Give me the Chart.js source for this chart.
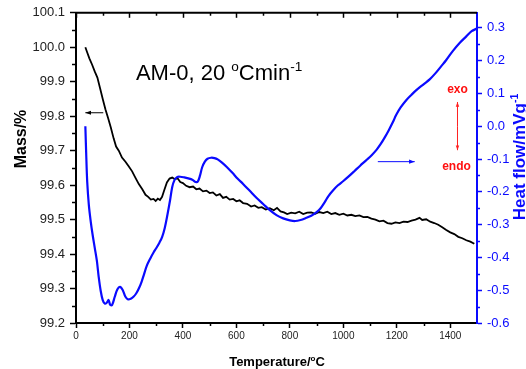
<!DOCTYPE html>
<html>
<head>
<meta charset="utf-8">
<script src="https://cdn.jsdelivr.net/npm/chart.js@4/dist/chart.umd.min.js"></script>
<style>
	body { margin: 0; background: #fff; }
</style>
</head>
<body>
<canvas id="myChart" width="526" height="369"></canvas>
<script>
	//Mass (TG) curve - black
	var massTemp = [35, 42, 50, 60, 70, 80, 91, 100, 110, 120, 130, 141, 150, 160, 172, 185, 197, 210, 222, 235,
		248, 260, 270, 280, 290, 298, 306, 314, 322, 330, 340, 350, 360, 370, 380, 390, 400, 412, 425, 438,
		450, 462, 475, 488, 500, 512, 525, 538, 550, 562, 575, 588, 600, 612, 625, 640, 655, 668, 682, 695,
		710, 725, 740, 752, 765, 778, 790, 805, 820, 835, 850, 865, 880, 895, 910, 925, 940, 955, 970, 985,
		1000, 1015, 1030, 1045, 1060, 1075, 1090, 1105, 1120, 1135, 1150, 1165, 1180, 1195, 1210, 1225, 1240, 1255, 1270, 1285,
		1295, 1310, 1325, 1340, 1355, 1370, 1385, 1400, 1415, 1430, 1445, 1460, 1475, 1490];
	var massValues = [100.000, 99.985, 99.968, 99.950, 99.930, 99.912, 99.878, 99.850, 99.820, 99.795, 99.768, 99.735, 99.712, 99.700, 99.680, 99.668, 99.655, 99.640, 99.622, 99.603,
		99.588, 99.572, 99.566, 99.558, 99.560, 99.554, 99.561, 99.557, 99.566, 99.585, 99.608, 99.619, 99.622, 99.617, 99.620, 99.609, 99.606, 99.598, 99.594, 99.596,
		99.588, 99.590, 99.582, 99.584, 99.577, 99.579, 99.570, 99.574, 99.563, 99.566, 99.558, 99.560, 99.553, 99.556, 99.548, 99.546, 99.538, 99.541, 99.534, 99.536,
		99.529, 99.533, 99.527, 99.534, 99.524, 99.521, 99.516, 99.520, 99.518, 99.523, 99.516, 99.520, 99.521, 99.517, 99.522, 99.519, 99.523, 99.516, 99.519, 99.514,
		99.517, 99.512, 99.514, 99.510, 99.512, 99.507, 99.508, 99.503, 99.500, 99.495, 99.497, 99.490, 99.488, 99.492, 99.490, 99.494, 99.493, 99.497, 99.500, 99.505,
		99.499, 99.501, 99.494, 99.490, 99.485, 99.478, 99.470, 99.463, 99.458, 99.450, 99.446, 99.440, 99.436, 99.430];

	//Heat flow (DSC) curve - blue
	var heatTemp = [35, 38, 42, 48, 55, 62, 70, 78, 85, 92, 100, 108, 115, 122, 128, 135, 145, 155, 165, 175,
		185, 195, 205, 215, 225, 235, 245, 255, 265, 278, 290, 300, 312, 322, 332, 342, 352, 360, 368, 378,
		390, 405, 420, 435, 448, 456, 464, 472, 482, 492, 505, 518, 530, 545, 564, 585, 605, 625, 650, 675,
		700, 725, 750, 775, 800, 820, 840, 860, 880, 900, 915, 930, 945, 962, 980, 1000, 1020, 1040, 1062, 1085,
		1105, 1124, 1140, 1155, 1170, 1185, 1198, 1215, 1236, 1255, 1273, 1300, 1323, 1345, 1365, 1385, 1410, 1435, 1460, 1480, 1500];
	var heatValues = [0.00, -0.08, -0.17, -0.24, -0.29, -0.33, -0.37, -0.41, -0.46, -0.50, -0.53, -0.541, -0.538, -0.530, -0.545, -0.545, -0.520, -0.497, -0.490, -0.500,
		-0.520, -0.528, -0.526, -0.520, -0.510, -0.495, -0.475, -0.450, -0.425, -0.403, -0.385, -0.372, -0.355, -0.338, -0.310, -0.270, -0.225, -0.185, -0.165, -0.155,
		-0.154, -0.156, -0.159, -0.163, -0.170, -0.168, -0.150, -0.125, -0.108, -0.099, -0.096, -0.097, -0.101, -0.110, -0.124, -0.142, -0.160, -0.176, -0.197, -0.218,
		-0.237, -0.256, -0.271, -0.281, -0.287, -0.289, -0.286, -0.280, -0.273, -0.262, -0.250, -0.232, -0.212, -0.195, -0.180, -0.167, -0.153, -0.138, -0.121, -0.104,
		-0.089, -0.072, -0.054, -0.034, -0.012, 0.012, 0.035, 0.058, 0.080, 0.096, 0.110, 0.128, 0.143, 0.162, 0.182, 0.202, 0.230, 0.254, 0.274, 0.290, 0.298];

	//Tick labels
	var tempTicks = [0, 200, 400, 600, 800, 1000, 1200, 1400];
	var massTicks = [99.2, 99.3, 99.4, 99.5, 99.6, 99.7, 99.8, 99.9, 100.0, 100.1];
	var heatTicks = [-0.6, -0.5, -0.4, -0.3, -0.2, -0.1, 0.0, 0.1, 0.2, 0.3];

	var FONT = "'Liberation Sans', Arial, sans-serif";
	var BLUE = '#0a0aff';

	function toPoints(xs, ys) {
		var pts = [];
		for (var i = 0; i < xs.length; i++) {
			pts.push({ x: xs[i], y: ys[i] });
		}
		return pts;
	}

	//draw text with a superscript part
	function supText(ctx, parts, x, y, size, bold, color) {
		ctx.fillStyle = color;
		ctx.textBaseline = 'alphabetic';
		ctx.textAlign = 'left';
		var cx = x;
		parts.forEach(function (p) {
			var s = p.sup ? size * 0.62 : size;
			ctx.font = (bold ? 'bold ' : '') + s + 'px ' + FONT;
			ctx.fillText(p.t, cx, p.sup ? y - size * 0.42 : y);
			cx += ctx.measureText(p.t).width;
		});
		return cx - x;
	}
	function supWidth(ctx, parts, size, bold) {
		var w = 0;
		parts.forEach(function (p) {
			var s = p.sup ? size * 0.62 : size;
			ctx.font = (bold ? 'bold ' : '') + s + 'px ' + FONT;
			w += ctx.measureText(p.t).width;
		});
		return w;
	}

	function arrow(ctx, x1, y1, x2, y2, color, head) {
		ctx.strokeStyle = color;
		ctx.fillStyle = color;
		ctx.lineWidth = 1;
		ctx.beginPath();
		ctx.moveTo(x1, y1);
		ctx.lineTo(x2, y2);
		ctx.stroke();
		var ang = Math.atan2(y2 - y1, x2 - x1);
		ctx.beginPath();
		ctx.moveTo(x2, y2);
		ctx.lineTo(x2 - head * Math.cos(ang - 0.35), y2 - head * Math.sin(ang - 0.35));
		ctx.lineTo(x2 - head * Math.cos(ang + 0.35), y2 - head * Math.sin(ang + 0.35));
		ctx.closePath();
		ctx.fill();
	}

	//Frame, minor ticks, titles and annotations
	var extras = {
		id: 'extras',
		afterDraw: function (chart) {
			var ctx = chart.ctx;
			var sx = chart.scales.x, sm = chart.scales.yMass, sh = chart.scales.yHeat;
			var a = chart.chartArea;
			var i, p;
			ctx.save();

			//top frame line
			ctx.strokeStyle = '#000';
			ctx.lineWidth = 2;
			ctx.beginPath();
			ctx.moveTo(a.left - 1, a.top);
			ctx.lineTo(a.right, a.top);
			ctx.stroke();

			ctx.lineWidth = 1.5;
			//top ticks (inside) and bottom minor ticks
			for (i = 0; i <= 1400; i += 100) {
				p = Math.round(sx.getPixelForValue(i)) + 0.5;
				var major = (i % 200 === 0);
				ctx.beginPath();
				ctx.moveTo(p, a.top);
				ctx.lineTo(p, a.top + (major ? 5 : 3));
				if (!major) {
					ctx.moveTo(p, a.bottom);
					ctx.lineTo(p, a.bottom + 3);
				}
				ctx.stroke();
			}
			//left minor ticks
			for (i = 0; i < massTicks.length - 1; i++) {
				p = Math.round(sm.getPixelForValue(massTicks[i] + 0.05)) + 0.5;
				ctx.beginPath();
				ctx.moveTo(a.left, p);
				ctx.lineTo(a.left - 4, p);
				ctx.stroke();
			}
			//right minor ticks
			ctx.strokeStyle = BLUE;
			for (i = 0; i < heatTicks.length - 1; i++) {
				p = Math.round(sh.getPixelForValue(heatTicks[i] + 0.05)) + 0.5;
				ctx.beginPath();
				ctx.moveTo(a.right, p);
				ctx.lineTo(a.right + 3, p);
				ctx.stroke();
			}

			//axis titles
			ctx.fillStyle = '#000';
			ctx.font = 'bold 16px ' + FONT;
			ctx.textAlign = 'center';
			ctx.textBaseline = 'middle';
			ctx.save();
			ctx.translate(22, 139);
			ctx.rotate(-Math.PI / 2);
			ctx.fillText('Mass/%', 0, 0);
			ctx.restore();

			var tParts = [{ t: 'Temperature/' }, { t: 'o', sup: true }, { t: 'C' }];
			var tw = supWidth(ctx, tParts, 13, true);
			supText(ctx, tParts, 277 - tw / 2, 366, 13, true, '#000');

			var hParts = [{ t: 'Heat flow/mVg' }, { t: '-1', sup: true }];
			var hw = supWidth(ctx, hParts, 17, true);
			ctx.save();
			ctx.translate(526, 157);
			ctx.rotate(-Math.PI / 2);
			supText(ctx, hParts, -hw / 2, -1, 17, true, BLUE);
			ctx.restore();

			//sample title
			supText(ctx, [{ t: 'AM-0, 20 ' }, { t: 'o', sup: true }, { t: 'Cmin' }, { t: '-1', sup: true }],
				sx.getPixelForValue(224), sm.getPixelForValue(99.905), 22, false, '#000');

			//axis arrows
			var yb = sm.getPixelForValue(99.81);
			arrow(ctx, sx.getPixelForValue(102), yb, sx.getPixelForValue(35), yb, '#000', 6);
			var yr = sh.getPixelForValue(-0.108);
			arrow(ctx, sx.getPixelForValue(1129), yr, sx.getPixelForValue(1267), yr, BLUE, 6);

			//exo / endo
			var xe = sx.getPixelForValue(1427);
			var ym = sh.getPixelForValue(0.0);
			arrow(ctx, xe, ym, xe, sh.getPixelForValue(0.074), '#ff2020', 5);
			arrow(ctx, xe, ym, xe, sh.getPixelForValue(-0.073), '#ff2020', 5);
			ctx.fillStyle = '#ff1010';
			ctx.font = 'bold 12px ' + FONT;
			ctx.textAlign = 'center';
			ctx.textBaseline = 'middle';
			ctx.fillText('exo', xe, sh.getPixelForValue(0.113));
			ctx.fillText('endo', xe - 1, sh.getPixelForValue(-0.124));

			ctx.restore();
		}
	};

	Chart.defaults.font.family = FONT;

	var ctx = document.getElementById('myChart').getContext('2d');
	var myChart = new Chart(ctx, {
		type: 'line',
		data: {
			datasets: [{
					label: 'Heat flow',
					data: toPoints(heatTemp, heatValues),
					yAxisID: 'yHeat',
					borderColor: BLUE,
					borderWidth: 2.2,
					pointRadius: 0,
					tension: 0.35,
					fill: false
				},
				{
					label: 'Mass',
					data: toPoints(massTemp, massValues),
					yAxisID: 'yMass',
					borderColor: '#000',
					borderWidth: 1.8,
					pointRadius: 0,
					tension: 0,
					fill: false
				}]
		},
		options: {
			responsive: false,
			animation: false,
			events: [],
			layout: { padding: { top: 12, left: 0, right: 0, bottom: 0 } },
			plugins: {
				legend: { display: false },
				tooltip: { enabled: false }
			},
			scales: {
				x: {
					type: 'linear',
					min: 0,
					max: 1500,
					afterBuildTicks: function (scale) {
						scale.ticks = tempTicks.map(function (v) { return { value: v }; });
					},
					afterFit: function (scale) { scale.height = 46; },
					ticks: {
						autoSkip: false,
						maxRotation: 0,
						padding: 2,
						color: '#222',
						font: { size: 10 },
						callback: function (v) { return String(v); }
					},
					grid: { drawOnChartArea: false, drawTicks: true, tickLength: 5, tickColor: '#000', tickWidth: 1.5 },
					border: { display: true, color: '#000', width: 2 }
				},
				yMass: {
					type: 'linear',
					position: 'left',
					min: 99.2,
					max: 100.1,
					afterBuildTicks: function (scale) {
						scale.ticks = massTicks.map(function (v) { return { value: v }; });
					},
					afterFit: function (scale) { scale.width = 76; },
					ticks: {
						padding: 5,
						color: '#222',
						font: { size: 13 },
						callback: function (v) { return v.toFixed(1); }
					},
					grid: { drawOnChartArea: false, drawTicks: true, tickLength: 6, tickColor: '#000', tickWidth: 1.5 },
					border: { display: true, color: '#000', width: 2 }
				},
				yHeat: {
					type: 'linear',
					position: 'right',
					min: -0.6,
					max: 0.346,
					afterBuildTicks: function (scale) {
						scale.ticks = heatTicks.map(function (v) { return { value: v }; });
					},
					afterFit: function (scale) { scale.width = 49; },
					ticks: {
						padding: 5,
						color: BLUE,
						font: { size: 13 },
						callback: function (v) { return v.toFixed(1); }
					},
					grid: { drawOnChartArea: false, drawTicks: true, tickLength: 5, tickColor: BLUE, tickWidth: 1.5 },
					border: { display: true, color: BLUE, width: 2 }
				}
			}
		},
		plugins: [extras]
	});
</script>
</body>
</html>
